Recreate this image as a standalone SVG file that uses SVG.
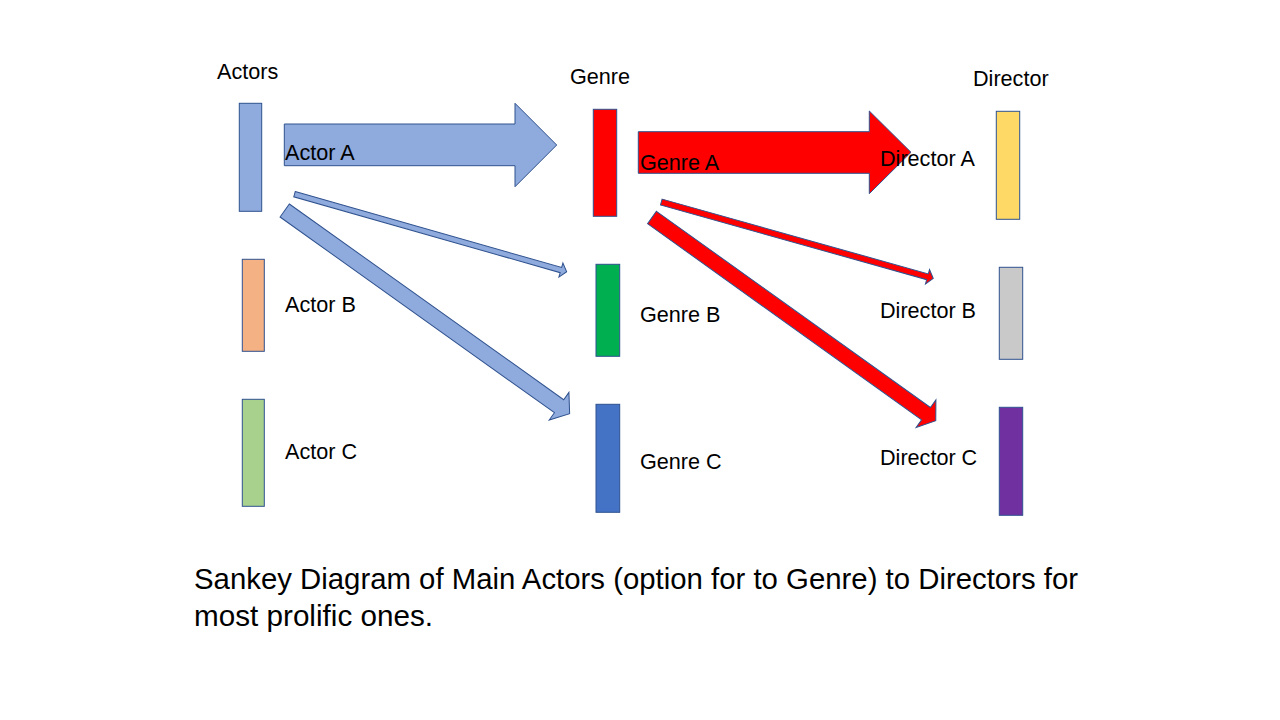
<svg xmlns="http://www.w3.org/2000/svg" width="1280" height="720" viewBox="0 0 1280 720">
<style>
  text { font-family: "Liberation Sans", Arial, sans-serif; fill: #000; }
  .lbl { font-size: 21.6px; }
  .cap { font-size: 29px; }
  .node { stroke: #2F528F; stroke-width: 1; }
  .flowB { fill: #8FAADC; stroke: #2F528F; stroke-width: 1; }
  .flowR { fill: #FF0000; stroke: #2F528F; stroke-width: 1; }
</style>
<rect width="1280" height="720" fill="#FFFFFF"/>
<g id="headers">
  <text class="lbl" x="217" y="79">Actors</text>
  <text class="lbl" x="570" y="84">Genre</text>
  <text class="lbl" x="973" y="86">Director</text>
</g>
<g id="connectors">
  <polygon class="flowB" points="284.3,124 515,124 515,103.3 556.7,145 515,186.7 515,165.7 284.3,165.7"/>
  <polygon class="flowB" transform="translate(294.5,194.2) rotate(15.9)" points="0,-2.7 277,-2.7 277,-7.3 283,0 277,7.3 277,2.7 0,2.7"/>
  <polygon class="flowB" transform="translate(284.7,210.5) rotate(35.5)" points="0,-8 337,-8 337,-17 350,0 337,17 337,8 0,8"/>
  <polygon class="flowR" points="638.3,131.7 869.3,131.7 869.3,111 911,152.3 869.3,193.7 869.3,173.3 638.3,173.3"/>
  <polygon class="flowR" transform="translate(661.3,202) rotate(15.7)" points="0,-3 276.5,-3 276.5,-7.5 282.5,0 276.5,7.5 276.5,3 0,3"/>
  <polygon class="flowR" transform="translate(652,217.5) rotate(35.6)" points="0,-7.6 337,-7.6 337,-17 349,0 337,17 337,7.6 0,7.6"/>
</g>
<g id="actor-a">
  <rect class="node" x="239.3" y="103.3" width="22.4" height="108" fill="#8FAADC"/>
  <text class="lbl" x="285" y="160">Actor A</text>
</g>
<g id="actor-b">
  <rect class="node" x="242.3" y="259.3" width="22" height="92" fill="#F4B183"/>
  <text class="lbl" x="285" y="312">Actor B</text>
</g>
<g id="actor-c">
  <rect class="node" x="242.3" y="399.3" width="22" height="107" fill="#A9D18E"/>
  <text class="lbl" x="285" y="459">Actor C</text>
</g>
<g id="genre-a">
  <rect class="node" x="593.3" y="109.3" width="23.4" height="107" fill="#FF0000"/>
  <text class="lbl" x="640" y="170">Genre A</text>
</g>
<g id="genre-b">
  <rect class="node" x="596" y="264.3" width="23.7" height="92" fill="#00B050"/>
  <text class="lbl" x="640" y="322">Genre B</text>
</g>
<g id="genre-c">
  <rect class="node" x="596" y="404.3" width="23.7" height="108" fill="#4472C4"/>
  <text class="lbl" x="640" y="469">Genre C</text>
</g>
<g id="director-a">
  <rect class="node" x="996.3" y="111.3" width="23.4" height="108" fill="#FFD966"/>
  <text class="lbl" x="880" y="166">Director A</text>
</g>
<g id="director-b">
  <rect class="node" x="999.3" y="267.3" width="23.4" height="92" fill="#C9C9C9"/>
  <text class="lbl" x="880" y="318">Director B</text>
</g>
<g id="director-c">
  <rect class="node" x="999.3" y="407.3" width="23.4" height="108" fill="#7030A0"/>
  <text class="lbl" x="880" y="465">Director C</text>
</g>
<g id="caption">
  <text class="cap" x="194" y="588.5" textLength="884" lengthAdjust="spacingAndGlyphs">Sankey Diagram of Main Actors (option for to Genre) to Directors for</text>
  <text class="cap" x="194" y="625.5" textLength="239" lengthAdjust="spacingAndGlyphs">most prolific ones.</text>
</g>
</svg>
